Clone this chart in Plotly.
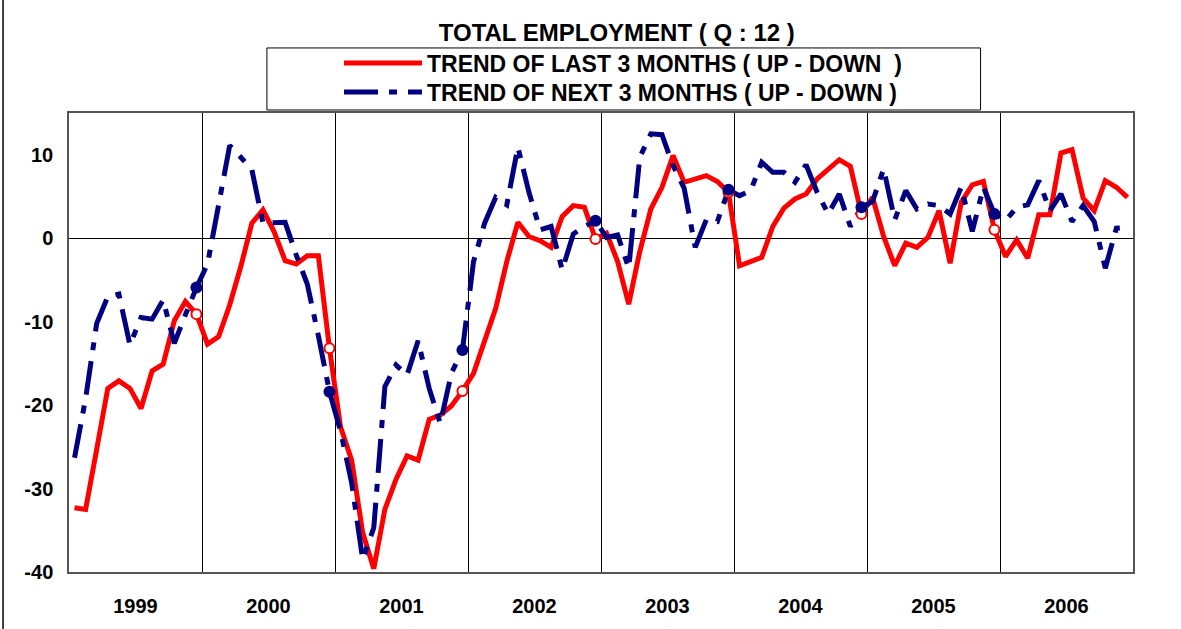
import plotly.graph_objects as go

years = ["1999", "2000", "2001", "2002", "2003", "2004", "2005", "2006"]
months = list(range(96))
y_ticks = [10, 0, -10, -20, -30, -40]
y_tick_text = ["10", "0", "-10", "-20", "-30", "-40"]

trend_last = [
    -32.3, -32.5, -25.3, -18.0, -17.1, -18.0, -20.4, -15.9, -15.1, -9.9, -7.6, -9.1,
    -12.7, -11.8, -8.0, -3.4, 1.8, 3.4, 0.8, -2.7, -3.1, -2.1, -2.1, -13.2,
    -22.6, -26.6, -35.3, -39.6, -32.5, -28.9, -26.1, -26.6, -21.7, -21.2, -20.1, -18.3,
    -16.2, -12.4, -8.4, -2.8, 1.9, 0.2, -0.3, -1.1, 2.6, 3.9, 3.7, -0.1,
    0.6, -2.8, -7.9, -1.6, 3.5, 6.1, 9.9, 6.7, 7.1, 7.5, 6.8, 5.5,
    -3.3, -2.8, -2.3, 1.4, 3.6, 4.7, 5.3, 7.1, 8.3, 9.4, 8.6, 2.9,
    4.9, 0.2, -3.3, -0.6, -1.1, 0.1, 3.3, -3.0, 4.3, 6.4, 6.8, 1.0,
    -2.2, -0.2, -2.4, 2.8, 2.8, 10.2, 10.6, 4.8, 3.3, 6.9, 6.1, 4.9,
]

trend_next = [
    -26.3, -19.2, -10.2, -7.0, -6.7, -12.8, -9.5, -9.7, -7.4, -12.6, -9.2, -5.9,
    -3.1, 4.0, 11.1, 9.7, 8.2, 1.8, 1.8, 1.9, -2.0, -5.5, -11.7, -18.4,
    -23.1, -29.3, -38.5, -34.7, -17.8, -15.2, -16.4, -12.3, -18.0, -22.2, -16.2, -13.4,
    -2.8, 1.8, 4.9, 4.0, 10.9, 5.5, 1.0, 1.4, -3.8, 0.5, 1.4, 2.1,
    0.1, 0.4, -3.6, 9.7, 12.5, 12.4, 8.7, 6.0, -1.1, 2.2, 2.0, 5.8,
    5.1, 5.7, 9.1, 7.9, 7.9, 6.7, 8.8, 5.5, 2.9, 5.3, 1.4, 3.7,
    4.4, 8.3, 2.2, 5.7, 3.5, 4.1, 3.9, 2.9, 6.1, 0.8, 6.1, 2.9,
    2.1, 3.7, 4.0, 6.9, 3.3, 5.3, 2.0, 3.9, 2.0, -3.6, 1.2, 1.3,
]

# December of each year 1999-2005 carries a marker
marker_idx = [11, 23, 35, 47, 59, 71, 83]
year_centers = [5.5 + 12 * k for k in range(len(years))]

FONT = "Liberation Sans, Arial, sans-serif"

fig = go.Figure()
fig.add_trace(go.Scatter(
    x=months, y=trend_last, mode="lines",
    name="TREND OF LAST 3 MONTHS ( UP - DOWN  )",
    line=dict(color="#FF0000", width=5), legend="legend",
))
fig.add_trace(go.Scatter(
    x=months, y=trend_next, mode="lines",
    name="TREND OF NEXT 3 MONTHS ( UP - DOWN )",
    line=dict(color="#000080", width=5, dash="34px,11px,8px,11px"), legend="legend2",
))
fig.add_trace(go.Scatter(
    x=marker_idx, y=[trend_last[i] for i in marker_idx], mode="markers",
    showlegend=False, hoverinfo="skip",
    marker=dict(symbol="circle", size=10, color="white",
                line=dict(color="#FF0000", width=2)),
))
fig.add_trace(go.Scatter(
    x=marker_idx, y=[trend_next[i] for i in marker_idx], mode="markers",
    showlegend=False, hoverinfo="skip",
    marker=dict(symbol="circle", size=12, color="#000080"),
))

L, R, T, B = 69, 47.5, 113, 57.3
W, H = 1181, 629
pw, ph = W - L - R, H - T - B

def px_x(x):
    return (x - L) / pw

def px_y(y):
    return (H - B - y) / ph

legend_common = dict(
    xref="container", yref="container", x=339 / W, xanchor="left", yanchor="middle",
    font=dict(family=FONT, size=23, weight="bold", color="black"),
    bgcolor="rgba(0,0,0,0)", borderwidth=0, itemwidth=78,
)

fig.update_layout(
    width=W, height=H,
    margin=dict(l=L, r=R, t=T, b=B, pad=0, autoexpand=False),
    paper_bgcolor="white", plot_bgcolor="white",
    font=dict(family=FONT, color="black"),
    title=dict(
        text="TOTAL EMPLOYMENT ( Q : 12 )",
        font=dict(family=FONT, size=24, weight="bold", color="black"),
        x=px_x(617), xanchor="center", xref="paper",
        y=1 - 33 / H, yanchor="middle", yref="container",
    ),
    showlegend=True,
    legend=dict(y=1 - 63 / H, **legend_common),
    legend2=dict(y=1 - 92 / H, **legend_common),
    xaxis=dict(
        range=[-0.5, 95.5],
        tickmode="array", tickvals=year_centers, ticktext=years,
        ticks="", showgrid=False, zeroline=False,
        tickfont=dict(family=FONT, size=20, weight="bold", color="black"),
        ticklabelstandoff=15,
        showline=True, linecolor="#555555", linewidth=1.5, mirror=True,
        minor=dict(tick0=-0.5, dtick=12, showgrid=True, gridcolor="black",
                   gridwidth=1, ticks=""),
    ),
    yaxis=dict(
        range=[-40, 15], tickmode="array", tickvals=y_ticks, ticktext=y_tick_text,
        ticks="", showgrid=False,
        zeroline=True, zerolinecolor="black", zerolinewidth=1,
        tickfont=dict(family=FONT, size=20, weight="bold", color="black"),
        ticklabelstandoff=10,
        showline=True, linecolor="#555555", linewidth=1.5, mirror=True,
    ),
    shapes=[
        dict(type="rect", xref="paper", yref="paper",
             x0=px_x(267), x1=px_x(981), y0=px_y(110), y1=px_y(48),
             line=dict(color="black", width=1), fillcolor="rgba(0,0,0,0)", layer="below"),
        dict(type="line", xref="paper", yref="paper",
             x0=px_x(3), x1=px_x(3), y0=px_y(0), y1=px_y(H),
             line=dict(color="black", width=1.5)),
    ],
)

fig.write_html(
    "out.html",
    config={"displayModeBar": False},
    post_script="document.body.style.margin='0px';document.body.style.overflow='hidden';",
)
